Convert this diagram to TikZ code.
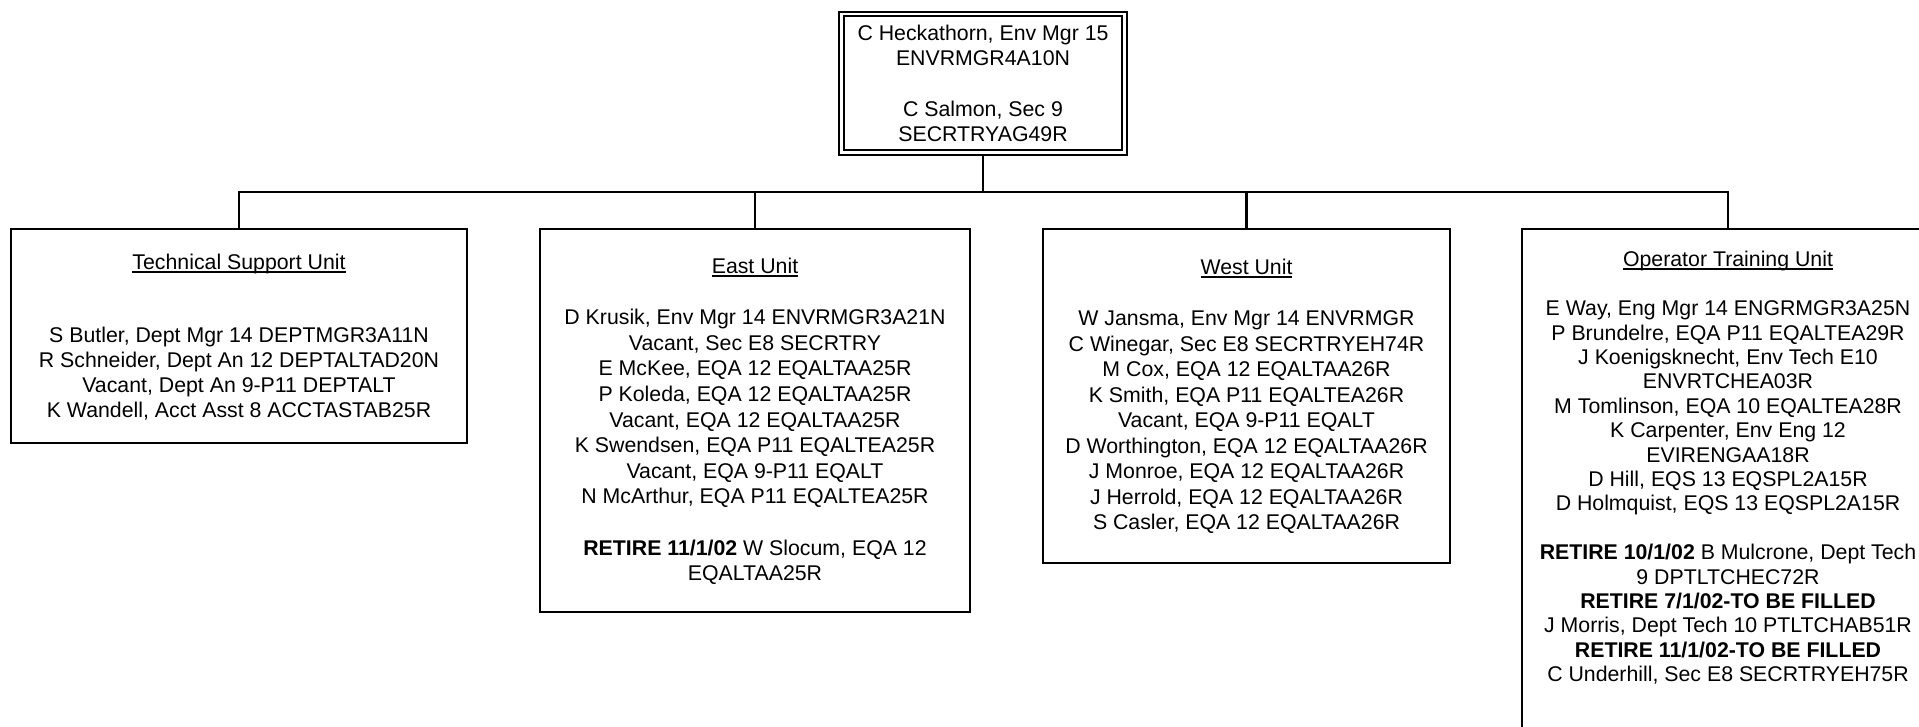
\documentclass[tikz,border=0pt]{standalone}
\usepackage{fontspec}
\setmainfont{Liberation Sans}
\usetikzlibrary{backgrounds}
\newcommand{\unitname}[1]{\setbox0\hbox{#1}\rlap{\rule[-3pt]{\wd0}{1.5pt}}\box0}
\begin{document}
\begin{tikzpicture}[x=1pt,y=-1pt,
  unitbox/.style={draw, line width=2pt, rectangle, anchor=north, inner sep=0pt},
  unittext/.style={anchor=north, align=center, inner sep=0pt},
  link/.style={line width=2.2pt}]
\useasboundingbox (0,0) rectangle (1919,727);
\clip (0,0) rectangle (1919,727);

% head box
\node[draw, fill=white, double, line width=2pt, double distance=2.5pt,
      minimum width=283pt, minimum height=138.5pt, inner sep=0pt, align=center,
      font=\fontsize{21.3}{25.4}\selectfont] (top) at (983,83.25)
  {C Heckathorn, Env Mgr 15\\ENVRMGR4A10N\\[25.4pt]C Salmon, Sec 9\\SECRTRYAG49R};

% unit boxes
\node[unitbox, minimum width=456pt, minimum height=214pt] (tsu) at (239,228) {};
\node[unitbox, minimum width=430pt, minimum height=383pt] (east) at (755,228) {};
\node[unitbox, minimum width=407pt, minimum height=334pt] (west) at (1246.5,228) {};
\node[unitbox, minimum width=412pt, minimum height=540pt] (otu) at (1728,228) {};

% unit texts
\node[unittext, font=\fontsize{21.3}{25}\selectfont] (tsuT) at (239,254)
  {\unitname{Technical Support Unit}\\[48pt]
   S Butler, Dept Mgr 14 DEPTMGR3A11N\\
   R Schneider, Dept An 12 DEPTALTAD20N\\
   Vacant, Dept An 9-P11 DEPTALT\\
   K Wandell, Acct Asst 8 ACCTASTAB25R};

\node[unittext, font=\fontsize{21.3}{25.6}\selectfont] (eastT) at (755,258)
  {\unitname{East Unit}\\[25.4pt]
   D Krusik, Env Mgr 14 ENVRMGR3A21N\\
   Vacant, Sec E8 SECRTRY\\
   E McKee, EQA 12 EQALTAA25R\\
   P Koleda, EQA 12 EQALTAA25R\\
   Vacant, EQA 12 EQALTAA25R\\
   K Swendsen, EQA P11 EQALTEA25R\\
   Vacant, EQA 9-P11 EQALT\\
   N McArthur, EQA P11 EQALTEA25R\\[25.6pt]
   \textbf{RETIRE 11/1/02} W Slocum, EQA 12\\
   EQALTAA25R};

\node[unittext, font=\fontsize{21.3}{25.5}\selectfont] (westT) at (1246.5,259)
  {\unitname{West Unit}\\[25.5pt]
   W Jansma, Env Mgr 14 ENVRMGR\\
   C Winegar, Sec E8 SECRTRYEH74R\\
   M Cox, EQA 12 EQALTAA26R\\
   K Smith, EQA P11 EQALTEA26R\\
   Vacant, EQA 9-P11 EQALT\\
   D Worthington, EQA 12 EQALTAA26R\\
   J Monroe, EQA 12 EQALTAA26R\\
   J Herrold, EQA 12 EQALTAA26R\\
   S Casler, EQA 12 EQALTAA26R};

\node[unittext, font=\fontsize{21.3}{24.4}\selectfont] (otuT) at (1728,251)
  {\unitname{Operator Training Unit}\\[24.6pt]
   E Way, Eng Mgr 14 ENGRMGR3A25N\\
   P Brundelre, EQA P11 EQALTEA29R\\
   J Koenigsknecht, Env Tech E10\\
   ENVRTCHEA03R\\
   M Tomlinson, EQA 10 EQALTEA28R\\
   K Carpenter, Env Eng 12\\
   EVIRENGAA18R\\
   D Hill, EQS 13 EQSPL2A15R\\
   D Holmquist, EQS 13 EQSPL2A15R\\[24.4pt]
   \textbf{RETIRE 10/1/02} B Mulcrone, Dept Tech\\
   9 DPTLTCHEC72R\\
   \textbf{RETIRE 7/1/02-TO BE FILLED}\\
   J Morris, Dept Tech 10 PTLTCHAB51R\\
   \textbf{RETIRE 11/1/02-TO BE FILLED}\\
   C Underhill, Sec E8 SECRTRYEH75R};

% connectors
\coordinate (bus) at (983,192);
\begin{scope}[on background layer]
  \draw[link] (top.south) -- (bus);
  \draw[link] (tsu.north) |- (bus);
  \draw[link] (east.north) |- (bus);
  \draw[link] (west.north) |- (bus);
  \draw[link] (otu.north) |- (bus);
\end{scope}
\end{tikzpicture}
\end{document}
